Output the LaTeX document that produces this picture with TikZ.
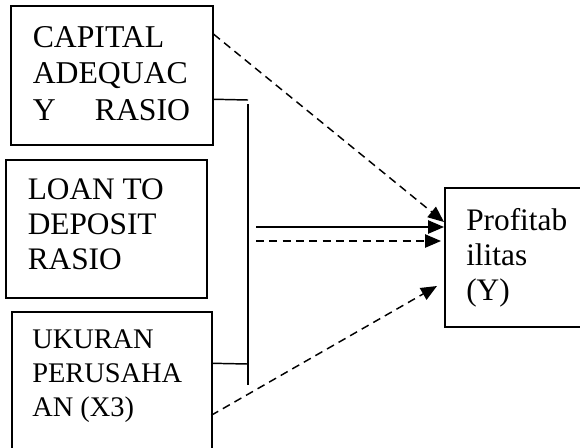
\documentclass[tikz,border=0pt]{standalone}
\usepackage{fontspec}
\setmainfont{Liberation Serif}
\usetikzlibrary{arrows.meta,calc}
\begin{document}
\begin{tikzpicture}[x=0.75pt,y=-0.75pt,
  box/.style={draw,line width=1.1pt,inner sep=0pt,rectangle},
  txt/.style={anchor=base west,inner sep=0pt},
  conn/.style={line width=1.1pt},
  dconn/.style={line width=1.1pt,dash pattern=on 6pt off 4pt},
  tip/.style={-{Triangle[length=12pt,width=10pt]}}]
\clip (0,0) rectangle (580,447);
\fill[white] (0,0) rectangle (580,447);
% boxes
\node[box,minimum width=151.5pt,minimum height=104.25pt] (cap) at (112,75.5) {};
\node[box,minimum width=150.75pt,minimum height=103.5pt] (ldr) at (106.5,229) {};
\node[box,minimum width=150pt,minimum height=107.25pt] (uk) at (112,383.5) {};
\node[box,minimum width=108.75pt,minimum height=104.25pt] (prof) at (517.5,257.5) {};
% texts
\node[txt,font=\fontsize{23.8}{27.5}\selectfont] (capt) at (32.5,47) {\parbox[t]{118pt}{\baselineskip=27.5pt CAPITAL\\ADEQUAC\\Y\hfill RASIO}};
\node[txt,font=\fontsize{23.5}{26.6}\selectfont] (ldrt) at (27.5,199) {\parbox[t]{140pt}{\baselineskip=26.6pt LOAN TO\\DEPOSIT\\RASIO}};
\node[txt,font=\fontsize{21.3}{25.5}\selectfont] (ukt) at (32,348.5) {\parbox[t]{140pt}{\baselineskip=25.5pt UKURAN\\PERUSAHA\\AN (X3)}};
\node[txt,font=\fontsize{23.5}{26.5}\selectfont] (proft) at (466,230) {\parbox[t]{100pt}{\baselineskip=26.5pt Profitab\\ilitas\\(Y)}};
% coordinates
\coordinate (c1) at ($(cap.north east)+(0,94)$);
\coordinate (j1) at (248,100);
\coordinate (v1) at (248,104);
\coordinate (v2) at (248,385);
\coordinate (c3) at ($(uk.north west)+(200,52)$);
\coordinate (j3) at (248,364);
\coordinate (s1) at (256,227);
\coordinate (e1) at (444,227);
\coordinate (s2) at (256,241);
\coordinate (e2) at (441,241);
\coordinate (d1) at ($(cap.north east)+(0,29)$);
\coordinate (f1) at (444,222);
\coordinate (d3) at ($(uk.north west)+(200,104)$);
\coordinate (f3) at (437,286);
% connectors
\draw[conn] (c1) -- (j1);
\draw[conn] (v1) -- (v2);
\draw[conn] (c3) -- (j3);
\draw[conn,tip] (s1) -- (e1);
\draw[dconn,tip] (s2) -- (e2);
\draw[dconn,tip] (d1) -- (f1);
\draw[dconn,tip] (d3) -- (f3);
\end{tikzpicture}
\end{document}
